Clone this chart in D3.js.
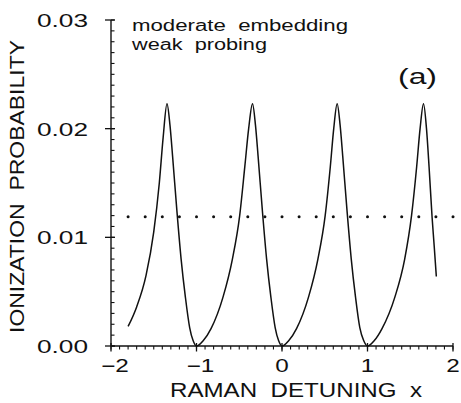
<!DOCTYPE html>
<html>
<head>
<meta charset="utf-8">
<script src="https://cdn.jsdelivr.net/npm/d3@7"></script>
<style>
  html, body { margin: 0; padding: 0; background: #fff; }
  text { font-family: "Liberation Sans", Arial, sans-serif; fill: #111; }
</style>
</head>
<body>
<div id="chart"></div>
<script>
// ionization probability vs raman detuning
const detuning = [
  -1.80, -1.70, -1.59, -1.50, -1.435, -1.39, -1.345, -1.31, -1.28, -1.23, -1.18, -1.13, -1.08, -1.04, -1.00,
  -0.92, -0.83, -0.69, -0.58, -0.495, -0.435, -0.39, -0.345, -0.31, -0.28, -0.23, -0.18, -0.13, -0.08, -0.04, 0.00,
  0.08, 0.17, 0.31, 0.42, 0.505, 0.565, 0.605, 0.645, 0.68, 0.71, 0.76, 0.81, 0.86, 0.91, 0.955, 1.00,
  1.08, 1.17, 1.32, 1.435, 1.515, 1.575, 1.615, 1.655, 1.69, 1.72, 1.755, 1.78, 1.805
];
const probability = [
  0.0018, 0.0036, 0.0065, 0.0105, 0.0150, 0.0192, 0.0223, 0.0203, 0.0175, 0.0125, 0.0080, 0.0045, 0.0017, 0.0005, 0.0000,
  0.0005, 0.0016, 0.0045, 0.0080, 0.0120, 0.0165, 0.0200, 0.0223, 0.0203, 0.0175, 0.0125, 0.0080, 0.0045, 0.0017, 0.0005, 0.0000,
  0.0005, 0.0016, 0.0045, 0.0080, 0.0120, 0.0165, 0.0200, 0.0223, 0.0203, 0.0175, 0.0125, 0.0080, 0.0045, 0.0017, 0.0005, 0.0000,
  0.0005, 0.0016, 0.0045, 0.0080, 0.0120, 0.0165, 0.0200, 0.0223, 0.0200, 0.0165, 0.0119, 0.0092, 0.0064
];

// dotted reference level
const dotDetuning = [-1.8, -1.6, -1.4, -1.2, -1.0, -0.8, -0.6, -0.4, -0.2, 0.0, 0.2, 0.4, 0.6, 0.8, 1.0, 1.2, 1.4, 1.6, 1.8, 2.0];
const dotLevel = 0.0119;

const xTickValues = [-2, -1, 0, 1, 2];
const xTickLabels = ["\u22122", "\u22121", "0", "1", "2"];
const yTickValues = [0, 0.01, 0.02, 0.03];
const yTickLabels = ["0.00", "0.01", "0.02", "0.03"];

/**
 * Proportions
 */
let svgWidth = 461;
let svgHeight = 403;

let plotLeft = 111;
let plotRight = 453;
let plotTop = 20;
let plotBottom = 346;

let x = d3.scaleLinear().domain([-2, 2]).range([plotLeft, plotRight]);
let y = d3.scaleLinear().domain([0, 0.03]).range([plotBottom, plotTop]);

const svg = d3.select("#chart")
    .append("svg")
    .attr("width", svgWidth)
    .attr("height", svgHeight);

// x axis: ticks hang below the line
const xAxis = svg.append("g");
xAxis.append("line")
    .attr("x1", x(-2)).attr("x2", x(2))
    .attr("y1", plotBottom).attr("y2", plotBottom)
    .attr("stroke", "#111").attr("stroke-width", 1.4);
xAxis.selectAll(".xminor")
    .data(d3.range(-20, 21).map(d => d / 10))
    .enter()
    .append("line")
    .attr("x1", d => x(d)).attr("x2", d => x(d))
    .attr("y1", plotBottom).attr("y2", plotBottom + 3.5)
    .attr("stroke", "#111").attr("stroke-width", 1.1);
xAxis.selectAll(".xmajor")
    .data(xTickValues)
    .enter()
    .append("line")
    .attr("x1", d => x(d)).attr("x2", d => x(d))
    .attr("y1", plotBottom - 3).attr("y2", plotBottom + 5.5)
    .attr("stroke", "#111").attr("stroke-width", 1.3);
xAxis.selectAll(".xlabel")
    .data(xTickValues)
    .enter()
    .append("text")
    .attr("transform", (d, i) => `translate(${x(d) + (i < 2 ? 4 : 0)}, 372) scale(1.35, 1)`)
    .attr("text-anchor", "middle")
    .attr("font-size", 18)
    .text((d, i) => xTickLabels[i]);

// y axis: ticks point into the plot
const yAxis = svg.append("g");
yAxis.append("line")
    .attr("x1", plotLeft).attr("x2", plotLeft)
    .attr("y1", y(0)).attr("y2", y(0.03))
    .attr("stroke", "#111").attr("stroke-width", 1.4);
yAxis.selectAll(".yminor")
    .data(d3.range(0, 31).map(d => d / 1000))
    .enter()
    .append("line")
    .attr("x1", plotLeft).attr("x2", plotLeft + 3.5)
    .attr("y1", d => y(d)).attr("y2", d => y(d))
    .attr("stroke", "#111").attr("stroke-width", 1.1);
yAxis.selectAll(".ymajor")
    .data(yTickValues)
    .enter()
    .append("line")
    .attr("x1", plotLeft - 6).attr("x2", plotLeft + 4)
    .attr("y1", d => y(d)).attr("y2", d => y(d))
    .attr("stroke", "#111").attr("stroke-width", 1.3);
yAxis.selectAll(".ylabel")
    .data(yTickValues)
    .enter()
    .append("text")
    .attr("transform", d => `translate(88, ${y(d) + 7}) scale(1.38, 1)`)
    .attr("text-anchor", "end")
    .attr("font-size", 19)
    .text((d, i) => yTickLabels[i]);

// axis titles
svg.append("text")
    .attr("transform", `translate(24, 186.5) rotate(-90)`)
    .attr("text-anchor", "middle")
    .attr("font-size", 21)
    .attr("textLength", 293)
    .attr("lengthAdjust", "spacingAndGlyphs")
    .style("white-space", "pre")
    .text("IONIZATION  PROBABILITY");

svg.append("text")
    .attr("x", 296)
    .attr("y", 397)
    .attr("text-anchor", "middle")
    .attr("font-size", 20)
    .attr("textLength", 252)
    .attr("lengthAdjust", "spacingAndGlyphs")
    .style("white-space", "pre")
    .text("RAMAN  DETUNING  x");

// annotations
svg.append("text")
    .attr("x", 132).attr("y", 31)
    .attr("font-size", 16)
    .attr("textLength", 216)
    .attr("lengthAdjust", "spacingAndGlyphs")
    .style("white-space", "pre")
    .text("moderate  embedding");
svg.append("text")
    .attr("x", 132).attr("y", 50)
    .attr("font-size", 16)
    .attr("textLength", 135)
    .attr("lengthAdjust", "spacingAndGlyphs")
    .style("white-space", "pre")
    .text("weak  probing");
svg.append("text")
    .attr("x", 398).attr("y", 84)
    .attr("font-size", 22)
    .attr("textLength", 39)
    .attr("lengthAdjust", "spacingAndGlyphs")
    .text("(a)");

// dotted level
svg.selectAll(".dot")
    .data(dotDetuning)
    .enter()
    .append("circle")
    .attr("cx", d => x(d))
    .attr("cy", y(dotLevel))
    .attr("r", 1.5)
    .attr("fill", "#111");

// curve
const points = detuning.map((d, i) => [d, probability[i]]);
svg.append("path")
    .datum(points)
    .attr("d", d3.line()
        .x(d => x(d[0]))
        .y(d => y(d[1]))
        .curve(d3.curveMonotoneX))
    .attr("fill", "none")
    .attr("stroke", "#111")
    .attr("stroke-width", 1.5);
</script>
</body>
</html>
